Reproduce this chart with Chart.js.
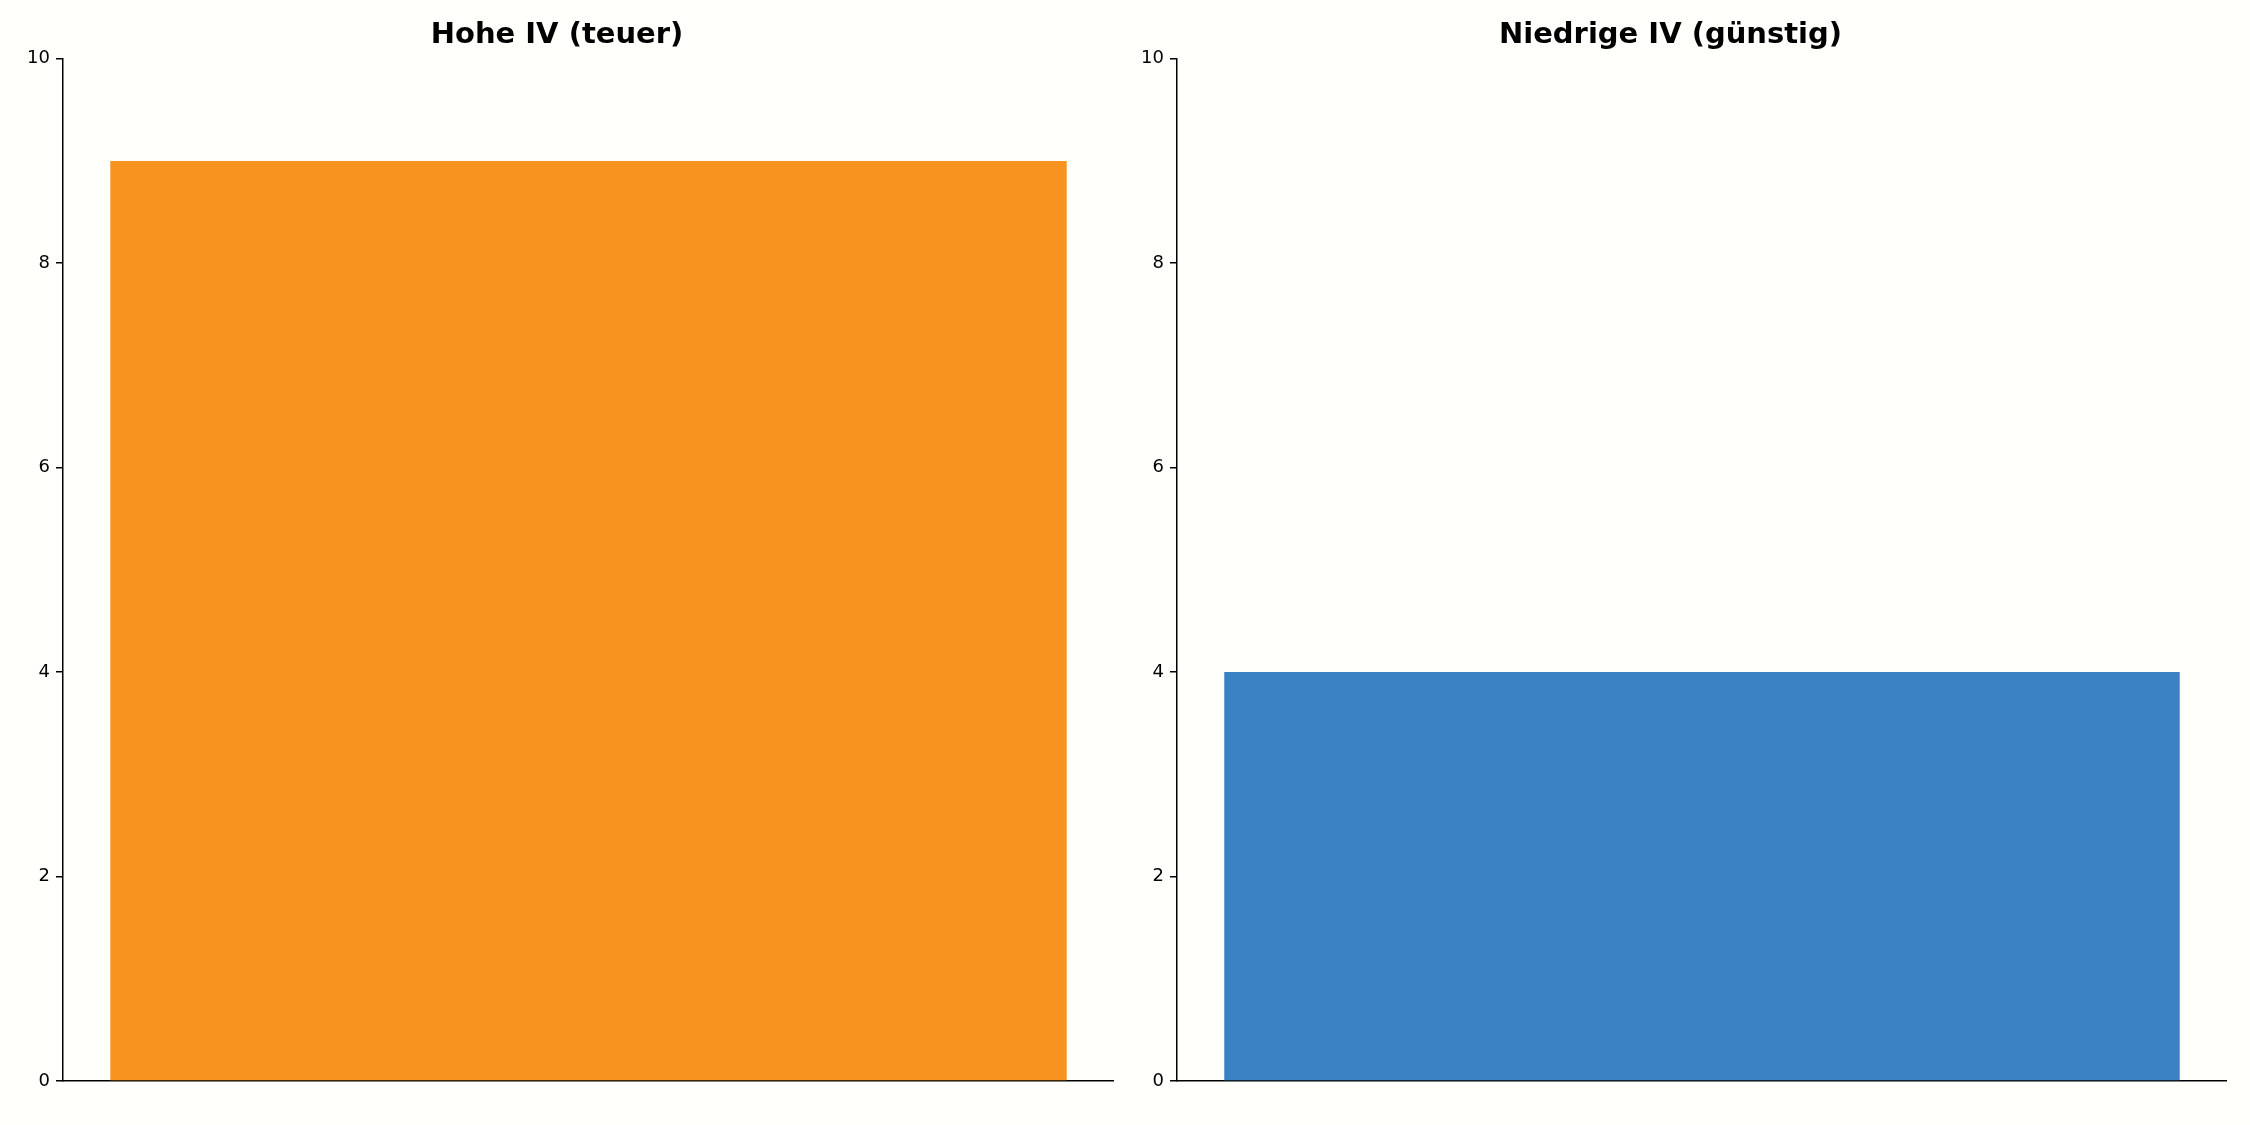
<!DOCTYPE html>
<html><head><meta charset="utf-8">
<script src="https://cdn.jsdelivr.net/npm/chart.js@4/dist/chart.umd.min.js"></script>
<style>
html,body{margin:0;padding:0;background:#fffffc;width:2250px;height:1125px;overflow:hidden}
.c{position:absolute;top:0;height:1125px}
</style></head><body>
<div class="c" style="left:0;width:1114px"><canvas id="a"></canvas></div>
<div class="c" style="left:1114px;width:1113px"><canvas id="b"></canvas></div>
<script>
const titles = ["Hohe IV (teuer)", "Niedrige IV (günstig)"];
const categories = [""];
const highIV = [9];
const lowIV = [4];
const colors = ["#F7931E", "#3B82C4"];
const yTicks = [0, 2, 4, 6, 8, 10];

function make(id, title, data, color) {
  new Chart(document.getElementById(id), {
    type: 'bar',
    data: { labels: categories, datasets: [{ data: data, backgroundColor: color, categoryPercentage: 1, barPercentage: 0.91 }] },
    options: {
      responsive: true, maintainAspectRatio: false, animation: false,
      layout: { padding: { bottom: 36, right: 0, left: 0, top: 0 } },
      plugins: {
        legend: { display: false }, tooltip: { enabled: false },
        title: { display: true, text: title, color: '#000', font: { family: 'DejaVu Sans', size: 29, weight: 'bold' }, padding: { top: 18, bottom: 6 } }
      },
      scales: {
        x: { offset: true, ticks: { display: false }, grid: { display: false }, border: { display: true, color: '#000', width: 1.5 } },
        y: {
          min: 0, max: 10,
          afterFit: s => { s.width = 63; },
          afterBuildTicks: s => { s.ticks = yTicks.map(v => ({ value: v })); },
          ticks: { color: '#000', font: { family: 'DejaVu Sans', size: 18 }, padding: 6 },
          grid: { drawOnChartArea: false, drawTicks: true, tickLength: 7, color: '#000', lineWidth: 1.5 },
          border: { display: true, color: '#000', width: 1.5 }
        }
      }
    }
  });
}
make('a', titles[0], highIV, colors[0]);
make('b', titles[1], lowIV, colors[1]);
</script></body></html>
